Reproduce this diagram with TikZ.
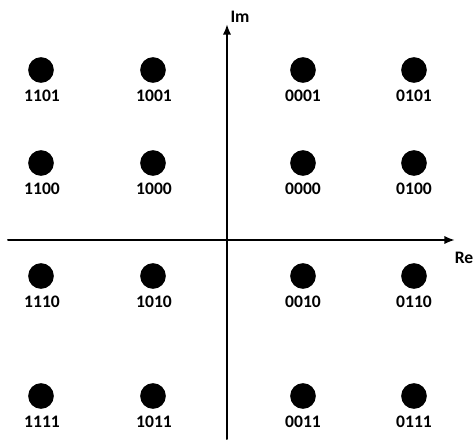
\documentclass[tikz,border=0pt]{standalone}
\usepackage{fontspec}
\setmainfont{Carlito}
\usetikzlibrary{arrows.meta}

\begin{document}
\begin{tikzpicture}[x=0.03cm, y=-0.03cm, line cap=round, line join=round,
  dot/.style={circle, fill=black, inner sep=0pt, minimum size=0.77cm},
  bits/.style={font=\bfseries\fontsize{15}{15}\selectfont, inner sep=0pt},
  axis/.style={line width=1.7pt, -{Latex[length=9pt, width=7pt]}}]

\useasboundingbox (0,0) rectangle (474,439);

% --- Axes ---
\coordinate (reL) at (8,240);
\coordinate (reR) at (455,240);
\coordinate (imB) at (227,439);
\coordinate (imT) at (227,24);
\draw[axis] (reL) -- (reR);
\draw[axis] (imB) -- (imT);
\node[bits] (im) at (240,17) {Im};
\node[bits] (re) at (464,258) {Re};

% --- Row 1 ---
\node[dot] (d1101) at (41,70) {};
\node[dot] (d1001) at (153,70) {};
\node[dot] (d0001) at (303,70) {};
\node[dot] (d0101) at (414,70) {};
\node[bits] (l1101) at (42,96) {1101};
\node[bits] (l1001) at (154,96) {1001};
\node[bits] (l0001) at (303,96) {0001};
\node[bits] (l0101) at (414,96) {0101};

% --- Row 2 ---
\node[dot] (d1100) at (41,163) {};
\node[dot] (d1000) at (153,163) {};
\node[dot] (d0000) at (303,163) {};
\node[dot] (d0100) at (414,163) {};
\node[bits] (l1100) at (42,189) {1100};
\node[bits] (l1000) at (154,189) {1000};
\node[bits] (l0000) at (303,189) {0000};
\node[bits] (l0100) at (414,189) {0100};

% --- Row 3 ---
\node[dot] (d1110) at (41,276) {};
\node[dot] (d1010) at (153,276) {};
\node[dot] (d0010) at (303,276) {};
\node[dot] (d0110) at (414,276) {};
\node[bits] (l1110) at (42,302) {1110};
\node[bits] (l1010) at (154,302) {1010};
\node[bits] (l0010) at (303,302) {0010};
\node[bits] (l0110) at (414,302) {0110};

% --- Row 4 ---
\node[dot] (d1111) at (41,396) {};
\node[dot] (d1011) at (153,396) {};
\node[dot] (d0011) at (303,396) {};
\node[dot] (d0111) at (414,396) {};
\node[bits] (l1111) at (42,422) {1111};
\node[bits] (l1011) at (154,422) {1011};
\node[bits] (l0011) at (303,422) {0011};
\node[bits] (l0111) at (414,422) {0111};

\end{tikzpicture}
\end{document}
